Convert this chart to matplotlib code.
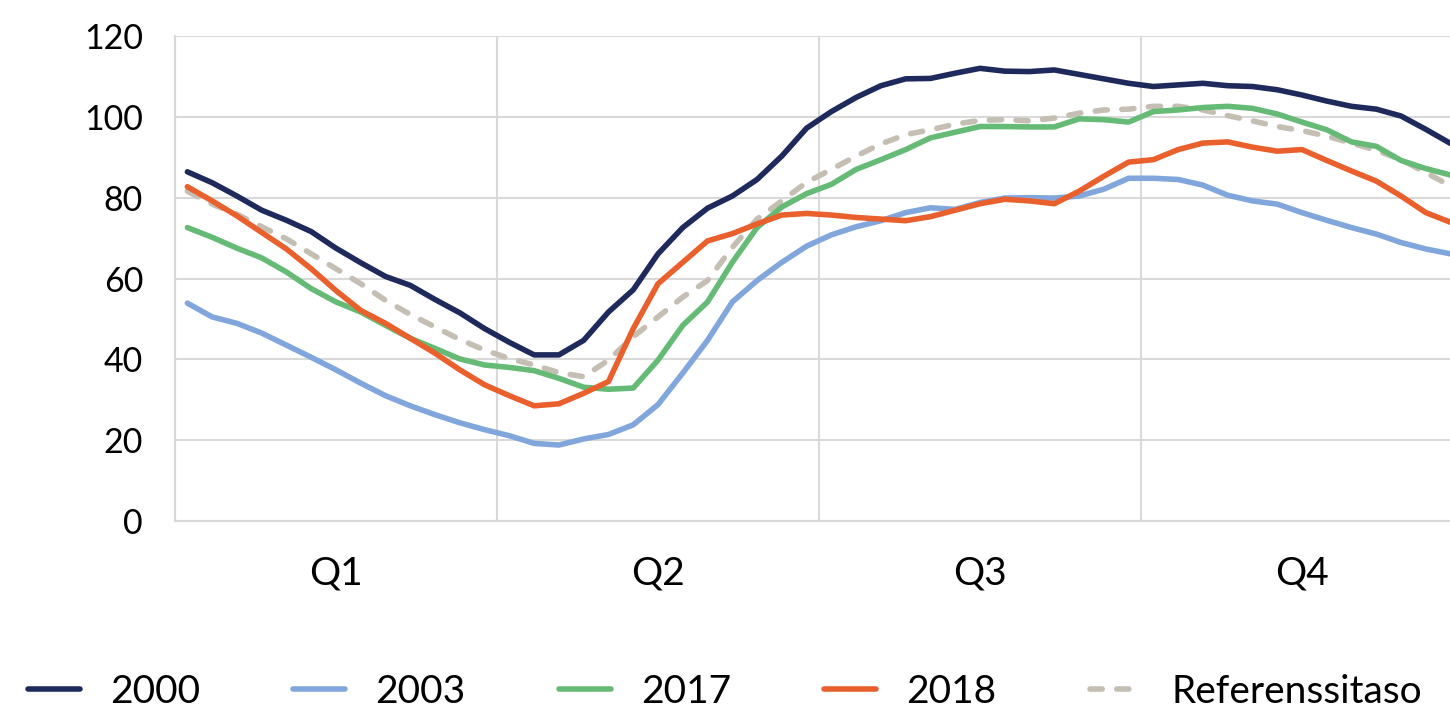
import numpy as np
import matplotlib
matplotlib.use("Agg")
import matplotlib.pyplot as plt

# Weekly index values (52 weeks)
weeks = np.arange(52)

y2000 = [86.4, 83.7, 80.4, 76.9, 74.4, 71.6, 67.5, 63.9, 60.5, 58.3,
         54.8, 51.5, 47.6, 44.2, 41.1, 41.1, 44.7, 51.7, 57.2, 66.1,
         72.6, 77.4, 80.4, 84.5, 90.3, 97.2, 101.3, 104.8, 107.7, 109.4,
         109.5, 110.8, 112.0, 111.3, 111.2, 111.6, 110.5, 109.4, 108.3, 107.5,
         107.9, 108.3, 107.7, 107.5, 106.7, 105.4, 103.9, 102.6, 101.9, 100.2,
         96.9, 93.4]

y2003 = [53.9, 50.5, 48.9, 46.5, 43.5, 40.5, 37.4, 34.1, 31.0, 28.5,
         26.3, 24.3, 22.6, 21.1, 19.2, 18.8, 20.3, 21.4, 23.8, 28.8,
         36.6, 44.7, 54.2, 59.5, 64.0, 68.0, 70.8, 72.8, 74.3, 76.3,
         77.5, 77.1, 78.8, 79.9, 80.0, 79.9, 80.4, 82.1, 84.8, 84.8,
         84.5, 83.1, 80.6, 79.2, 78.4, 76.3, 74.4, 72.6, 71.0, 68.9,
         67.3, 66.1]

y2017 = [72.6, 70.2, 67.5, 65.1, 61.6, 57.5, 54.2, 51.7, 48.4, 45.2,
         42.7, 40.1, 38.6, 38.0, 37.2, 35.3, 33.1, 32.6, 32.9, 39.8,
         48.4, 54.2, 64.0, 72.6, 77.7, 81.0, 83.3, 87.0, 89.4, 91.9,
         94.8, 96.2, 97.6, 97.6, 97.5, 97.5, 99.5, 99.3, 98.7, 101.3,
         101.7, 102.3, 102.6, 102.1, 100.7, 98.7, 96.8, 93.8, 92.7, 89.2,
         87.2, 85.6]

y2018 = [82.7, 79.2, 75.5, 71.4, 67.3, 62.4, 57.0, 52.1, 48.9, 45.2,
         41.5, 37.4, 33.7, 31.0, 28.5, 29.0, 31.6, 34.5, 47.6, 58.7,
         64.0, 69.3, 71.1, 73.5, 75.7, 76.1, 75.7, 75.1, 74.7, 74.3,
         75.3, 76.9, 78.5, 79.6, 79.2, 78.5, 81.6, 85.3, 88.8, 89.4,
         91.9, 93.5, 93.8, 92.5, 91.5, 91.9, 89.2, 86.6, 84.1, 80.4,
         76.3, 73.9]

yref = [81.6, 78.4, 75.9, 72.8, 69.8, 66.1, 62.4, 58.7, 54.6, 51.1,
        48.0, 44.9, 42.3, 40.2, 38.6, 36.7, 35.7, 39.8, 45.6, 50.5,
        55.4, 59.5, 67.7, 74.7, 79.2, 83.8, 87.0, 90.3, 93.3, 95.6,
        96.8, 98.2, 99.1, 99.3, 99.0, 99.7, 100.9, 101.7, 101.9, 102.6,
        102.6, 101.7, 100.3, 99.0, 97.6, 96.6, 95.2, 93.5, 91.7, 89.4,
        86.2, 82.9]

quarters = ["Q1", "Q2", "Q3", "Q4"]

plt.rcParams["font.family"] = ["Lato", "DejaVu Sans"]

fig = plt.figure(figsize=(14.5, 7.13), dpi=100)
ax = fig.add_axes([175 / 1450, 1 - 521 / 713, (1463 - 175) / 1450, (521 - 36) / 713])

lw = 4.0
ax.plot(weeks, y2000, color="#1f2a5c", lw=lw, label="2000", solid_capstyle="round", zorder=5)
ax.plot(weeks, y2003, color="#80a6dc", lw=lw, label="2003", solid_capstyle="round", zorder=3)
ax.plot(weeks, y2017, color="#65bb75", lw=lw, label="2017", solid_capstyle="round", zorder=4)
ax.plot(weeks, y2018, color="#e9602d", lw=lw, label="2018", solid_capstyle="round", zorder=4)
ax.plot(weeks, yref, color="#c5beb2", lw=lw, ls=(0, (2.2, 2.6)), label="Referenssitaso",
        dash_capstyle="round", zorder=3)

ax.set_xlim(-0.5, 51.5)
ax.set_ylim(0, 120)
ax.set_yticks(np.arange(0, 121, 20))

# quarter boundaries as major ticks (grid), centers as minor ticks (labels)
ax.set_xticks([-0.5, 12.5, 25.5, 38.5, 51.5])
ax.set_xticklabels([])
ax.set_xticks([6, 19, 32, 45], minor=True)
ax.set_xticklabels(quarters, minor=True)

grid_c = "#d9d9d9"
ax.grid(True, which="major", color=grid_c, lw=1.5, zorder=0)
ax.tick_params(axis="both", which="both", length=0, labelsize=24.5, colors="black")
ax.tick_params(axis="x", which="minor", pad=25, labelsize=28)
ax.tick_params(axis="y", pad=23)
for s in ["top", "right"]:
    ax.spines[s].set_visible(False)
for s in ["left", "bottom"]:
    ax.spines[s].set_color(grid_c)
    ax.spines[s].set_linewidth(1.5)

fig.legend(loc="center", bbox_to_anchor=(0.5, 1 - 692 / 713), ncol=5, frameon=False,
           fontsize=28, handlelength=1.34, handletextpad=0.77, columnspacing=2.4)

fig.savefig("out.png", dpi=100)
